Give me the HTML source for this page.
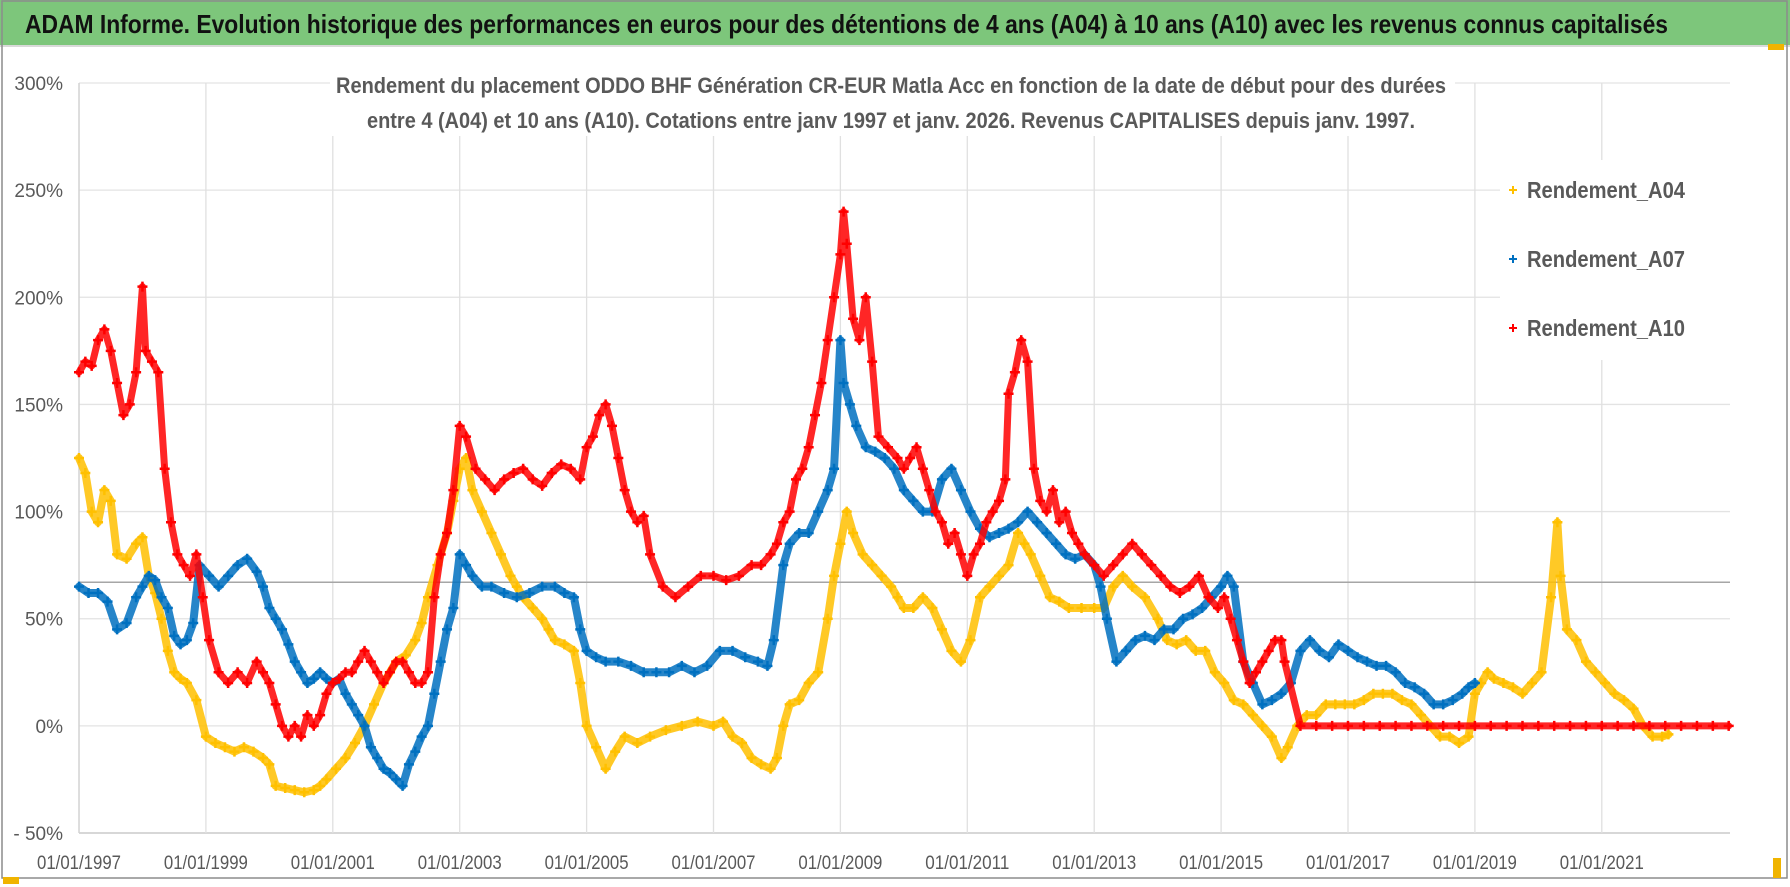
<!DOCTYPE html>
<html><head><meta charset="utf-8"><style>
html,body{margin:0;padding:0;background:#fff;}
svg{display:block;font-family:"Liberation Sans",sans-serif;}
</style></head><body>
<svg id="chart" width="1790" height="887" viewBox="0 0 1790 887">
<rect x="0" y="0" width="1790" height="887" fill="#ffffff"/>
<rect x="0" y="0" width="1790" height="45" fill="#7dc67b"/>
<line x1="0" y1="46" x2="1790" y2="46" stroke="#d9d9d9" stroke-width="2"/>
<rect x="2" y="1" width="1785" height="877" fill="none" stroke="#8c8c8c" stroke-width="1.5"/>
<text x="25" y="33" font-size="26" font-weight="bold" fill="#111" textLength="1643" lengthAdjust="spacingAndGlyphs">ADAM Informe. Evolution historique des performances en euros pour des détentions de 4 ans (A04) à 10 ans (A10) avec les revenus connus capitalisés</text>
<g id="grid"></g>
<g id="axes"></g>
<rect x="330" y="60" width="1125" height="76" fill="#fff"/>
<text x="891" y="93" font-size="22" font-weight="bold" fill="#595959" text-anchor="middle" textLength="1110" lengthAdjust="spacingAndGlyphs">Rendement du placement ODDO BHF Génération CR-EUR Matla Acc en fonction de la date de début pour des durées</text>
<text x="891" y="128" font-size="22" font-weight="bold" fill="#595959" text-anchor="middle" textLength="1048" lengthAdjust="spacingAndGlyphs">entre 4 (A04) et 10 ans (A10). Cotations entre janv 1997 et janv. 2026. Revenus CAPITALISES depuis janv. 1997.</text>
<g id="series"></g>
<rect x="1500" y="160" width="230" height="200" fill="#fff"/>
<g id="legend"></g>
<rect x="3" y="877" width="16" height="7" fill="#f0b400"/>
<rect x="1773" y="858" width="8" height="20" fill="#f0b400"/>
<rect x="1768" y="44" width="16" height="6" fill="#f0b400"/>
</svg>
<script>
const yTicks = [-50, 0, 50, 100, 150, 200, 250, 300];
const xTickYears = [1997, 1999, 2001, 2003, 2005, 2007, 2009, 2011, 2013, 2015, 2017, 2019, 2021];
const seriesNames = ["Rendement_A04", "Rendement_A07", "Rendement_A10"];
const seriesColors = ["#ffc000", "#0070c0", "#ff0000"];
const refLineValue = 67;

const a04Dates = [1997.0,1997.1,1997.2,1997.3,1997.4,1997.5,1997.6,1997.75,1997.9,1998.0,1998.1,1998.2,1998.3,1998.4,1998.5,1998.6,1998.7,1998.85,1999.0,1999.15,1999.3,1999.45,1999.6,1999.75,1999.9,2000.0,2000.1,2000.25,2000.4,2000.55,2000.7,2000.8,2000.9,2001.05,2001.2,2001.35,2001.5,2001.65,2001.8,2001.9,2002.0,2002.15,2002.3,2002.4,2002.5,2002.65,2002.8,2002.9,2003.0,2003.1,2003.2,2003.35,2003.5,2003.65,2003.8,2003.9,2004.0,2004.15,2004.3,2004.4,2004.5,2004.65,2004.8,2004.9,2005.0,2005.15,2005.3,2005.45,2005.6,2005.8,2006.0,2006.25,2006.5,2006.75,2007.0,2007.15,2007.3,2007.45,2007.6,2007.75,2007.9,2008.0,2008.1,2008.2,2008.35,2008.5,2008.65,2008.8,2008.9,2009.0,2009.1,2009.2,2009.35,2009.5,2009.65,2009.8,2009.9,2010.0,2010.15,2010.3,2010.45,2010.6,2010.75,2010.9,2011.05,2011.2,2011.35,2011.5,2011.65,2011.8,2011.9,2012.0,2012.15,2012.3,2012.45,2012.6,2012.8,2013.0,2013.15,2013.3,2013.45,2013.6,2013.8,2014.0,2014.15,2014.3,2014.45,2014.6,2014.75,2014.9,2015.05,2015.2,2015.35,2015.5,2015.65,2015.8,2015.95,2016.05,2016.2,2016.35,2016.5,2016.65,2016.8,2016.95,2017.1,2017.25,2017.4,2017.55,2017.7,2017.85,2018.0,2018.15,2018.3,2018.45,2018.6,2018.75,2018.9,2019.0,2019.1,2019.2,2019.3,2019.45,2019.6,2019.75,2019.9,2020.05,2020.2,2020.3,2020.35,2020.45,2020.6,2020.75,2020.9,2021.05,2021.2,2021.35,2021.5,2021.65,2021.8,2021.95,2022.05];
const a04Values = [125,118,100,95,110,105,80,78,85,88,70,62,50,35,25,22,20,12,-5,-8,-10,-12,-10,-12,-15,-18,-28,-29,-30,-31,-30,-28,-25,-20,-15,-8,0,10,20,25,30,33,40,48,60,75,90,105,120,125,110,100,90,80,70,65,60,55,50,45,40,38,35,20,0,-10,-20,-12,-5,-8,-5,-2,0,2,0,2,-5,-8,-15,-18,-20,-15,0,10,12,20,25,50,70,85,100,90,80,75,70,65,60,55,55,60,55,45,35,30,40,60,65,70,75,90,85,80,70,60,58,55,55,55,55,65,70,65,60,50,40,38,40,35,35,25,20,12,10,5,0,-5,-15,-10,0,5,5,10,10,10,10,12,15,15,15,12,10,5,0,-5,-5,-8,-5,15,20,25,22,20,18,15,20,25,60,95,70,45,40,30,25,20,15,12,8,0,-5,-5,-4];

const a07Dates = [1997.0,1997.15,1997.3,1997.45,1997.6,1997.75,1997.9,1998.0,1998.1,1998.2,1998.3,1998.4,1998.5,1998.6,1998.7,1998.8,1998.9,1999.05,1999.2,1999.35,1999.5,1999.65,1999.8,1999.9,2000.0,2000.1,2000.2,2000.3,2000.4,2000.5,2000.6,2000.7,2000.8,2000.9,2001.0,2001.1,2001.2,2001.3,2001.4,2001.5,2001.6,2001.7,2001.8,2001.9,2002.0,2002.1,2002.2,2002.3,2002.4,2002.5,2002.6,2002.7,2002.8,2002.9,2003.0,2003.1,2003.2,2003.35,2003.5,2003.7,2003.9,2004.1,2004.3,2004.5,2004.65,2004.8,2004.9,2005.0,2005.15,2005.3,2005.5,2005.7,2005.9,2006.1,2006.3,2006.5,2006.7,2006.9,2007.1,2007.3,2007.5,2007.7,2007.85,2007.95,2008.1,2008.2,2008.35,2008.5,2008.65,2008.8,2008.9,2009.0,2009.05,2009.15,2009.25,2009.4,2009.55,2009.7,2009.85,2010.0,2010.15,2010.3,2010.45,2010.6,2010.75,2010.9,2011.05,2011.2,2011.35,2011.5,2011.65,2011.8,2011.95,2012.1,2012.25,2012.4,2012.55,2012.7,2012.85,2013.0,2013.1,2013.2,2013.35,2013.5,2013.65,2013.8,2013.95,2014.1,2014.25,2014.4,2014.55,2014.7,2014.85,2015.0,2015.1,2015.2,2015.35,2015.5,2015.65,2015.8,2015.95,2016.1,2016.25,2016.4,2016.55,2016.7,2016.85,2017.0,2017.15,2017.3,2017.45,2017.6,2017.75,2017.9,2018.05,2018.2,2018.35,2018.5,2018.65,2018.8,2018.9,2019.0];
const a07Values = [65,62,62,58,45,48,60,65,70,68,60,55,42,38,40,48,75,70,65,70,75,78,72,65,55,50,45,38,30,25,20,22,25,22,20,22,15,10,5,0,-10,-15,-20,-22,-25,-28,-18,-12,-5,0,15,30,45,55,80,75,70,65,65,62,60,62,65,65,62,60,45,35,32,30,30,28,25,25,25,28,25,28,35,35,32,30,28,40,75,85,90,90,100,110,120,180,160,150,140,130,128,125,120,110,105,100,100,115,120,110,100,92,88,90,92,95,100,95,90,85,80,78,80,75,65,50,30,35,40,42,40,45,45,50,52,55,60,65,70,65,30,20,10,12,15,20,35,40,35,32,38,35,32,30,28,28,25,20,18,15,10,10,12,15,18,20,25,40,45];

const a10Dates = [1997.0,1997.1,1997.2,1997.3,1997.4,1997.5,1997.6,1997.7,1997.8,1997.9,1998.0,1998.05,1998.15,1998.25,1998.35,1998.45,1998.55,1998.65,1998.75,1998.85,1998.95,1999.05,1999.2,1999.35,1999.5,1999.65,1999.8,1999.9,2000.0,2000.1,2000.2,2000.3,2000.4,2000.5,2000.6,2000.7,2000.8,2000.9,2001.0,2001.1,2001.2,2001.3,2001.4,2001.5,2001.6,2001.7,2001.8,2001.9,2002.0,2002.1,2002.2,2002.3,2002.4,2002.5,2002.6,2002.7,2002.8,2002.9,2003.0,2003.1,2003.25,2003.4,2003.55,2003.7,2003.85,2004.0,2004.15,2004.3,2004.45,2004.6,2004.75,2004.9,2005.0,2005.1,2005.2,2005.3,2005.4,2005.5,2005.6,2005.7,2005.8,2005.9,2006.0,2006.2,2006.4,2006.6,2006.8,2007.0,2007.2,2007.4,2007.6,2007.75,2007.9,2008.0,2008.1,2008.2,2008.3,2008.4,2008.5,2008.6,2008.7,2008.8,2008.9,2009.0,2009.05,2009.1,2009.2,2009.3,2009.4,2009.5,2009.6,2009.75,2009.9,2010.0,2010.1,2010.2,2010.3,2010.4,2010.5,2010.6,2010.7,2010.8,2010.9,2011.0,2011.1,2011.2,2011.3,2011.4,2011.5,2011.6,2011.65,2011.75,2011.85,2011.95,2012.05,2012.15,2012.25,2012.35,2012.45,2012.55,2012.65,2012.75,2012.85,2013.0,2013.15,2013.3,2013.45,2013.6,2013.75,2013.9,2014.05,2014.2,2014.35,2014.5,2014.65,2014.8,2014.95,2015.05,2015.15,2015.25,2015.35,2015.45,2015.55,2015.65,2015.75,2015.85,2015.95,2016.0,2016.25,2016.5,2016.75,2017.0,2017.25,2017.5,2017.75,2018.0,2018.25,2018.5,2018.75,2019.0,2019.25,2019.5,2019.75,2020.0,2020.25,2020.5,2020.75,2021.0,2021.25,2021.5,2021.75,2022.0,2022.25,2022.5,2022.75,2023.0];
const a10Values = [165,170,168,180,185,175,160,145,150,165,205,175,170,165,120,95,80,75,70,80,60,40,25,20,25,20,30,25,20,10,0,-5,0,-5,5,0,5,15,20,22,25,25,30,35,30,25,20,25,30,30,25,20,20,25,60,80,90,110,140,135,120,115,110,115,118,120,115,112,118,122,120,115,130,135,145,150,140,125,110,100,95,98,80,65,60,65,70,70,68,70,75,75,80,85,95,100,115,120,130,145,160,180,200,220,240,225,190,180,200,170,135,130,125,120,125,130,120,110,100,95,85,90,80,70,80,85,95,100,105,115,155,165,180,170,120,105,100,110,95,100,90,85,80,75,70,75,80,85,80,75,70,65,62,65,70,60,55,60,50,40,30,20,25,30,35,40,40,30,0,0,0,0,0,0,0,0,0,0,0,0,0,0,0,0,0,0,0,0,0,0,0,0,0,0,0,0,0];

const plotLeft = 79, plotRight = 1730, plotTop = 83, plotBottom = 833;
const yMin = -50, yMax = 300, x0Year = 1997, pxPerYear = 63.45;
function xScale(year){ return plotLeft + (year - x0Year) * pxPerYear; }
function yScale(v){ return plotBottom - (v - yMin) / (yMax - yMin) * (plotBottom - plotTop); }
const NS = "http://www.w3.org/2000/svg";
function mk(tag, attrs, parent){ const e = document.createElementNS(NS, tag); for (const k in attrs) e.setAttribute(k, attrs[k]); parent.appendChild(e); return e; }

const grid = document.getElementById('grid');
const axes = document.getElementById('axes');
yTicks.forEach(function(t){
  const y = yScale(t);
  const gl = mk('line', {x1: plotLeft, x2: plotRight, y1: y, y2: y, stroke: t === yMin ? '#bfbfbf' : '#e3e3e3', 'stroke-width': 1.3}, grid);
  
  
  const lab = mk('text', {x: 63, y: y + 7, 'font-size': 19, fill: '#595959', 'text-anchor': 'end'}, axes);
  lab.textContent = (t < 0 ? '- ' + Math.abs(t) : t) + '%';
  
  
});
xTickYears.forEach(function(yr){
  const x = xScale(yr);
  const gl = mk('line', {x1: x, x2: x, y1: plotTop, y2: plotBottom, stroke: '#e0e0e0', 'stroke-width': 1.3}, grid);
  
  
  const lab = mk('text', {x: x, y: 869, 'font-size': 19, fill: '#595959', 'text-anchor': 'middle', textLength: 84, lengthAdjust: 'spacingAndGlyphs'}, axes);
  lab.textContent = '01/01/' + yr;
  
  
});
const lb = mk('line', {x1: plotLeft, x2: plotLeft, y1: plotTop, y2: plotBottom, stroke: '#d0d0d0', 'stroke-width': 1.3}, axes);


const ref = mk('line', {x1: plotLeft, x2: plotRight, y1: yScale(refLineValue), y2: yScale(refLineValue), stroke: '#a6a6a6', 'stroke-width': 1.5}, axes);



const seriesLayer = document.getElementById('series');
const allDates = [a04Dates, a07Dates, a10Dates];
const allValues = [a04Values, a07Values, a10Values];
function plusPath(x, y, s){ return 'M' + (x - s) + ' ' + y + 'H' + (x + s) + 'M' + x + ' ' + (y - s) + 'V' + (y + s); }
for (let s = 0; s < 3; s++){
  const g = mk('g', {}, seriesLayer);
  
  
  const d = allDates[s], v = allValues[s];
  let pts = '';
  for (let i = 0; i < d.length; i++) pts += xScale(d[i]) + ',' + yScale(v[i]) + ' ';
  const band = mk('polyline', {points: pts, fill: 'none', stroke: seriesColors[s], 'stroke-width': s === 2 ? 7 : 8, 'stroke-linejoin': 'round', 'stroke-linecap': 'round', opacity: 0.85}, g);
  
  
  let dp = '';
  for (let i = 0; i < d.length; i++) dp += plusPath(xScale(d[i]), yScale(v[i]), 5);
  const marks = mk('path', {d: dp, stroke: seriesColors[s], 'stroke-width': 2.5, fill: 'none'}, g);
  
  
}

const legend = document.getElementById('legend');
const legendY = [190, 259, 328];
for (let s = 0; s < 3; s++){
  const m = mk('path', {d: plusPath(1513, legendY[s], 4), stroke: seriesColors[s], 'stroke-width': 2, fill: 'none'}, legend);
  
  
  const t = mk('text', {x: 1527, y: legendY[s] + 8, 'font-size': 23, 'font-weight': 'bold', fill: '#595959', textLength: 158, lengthAdjust: 'spacingAndGlyphs'}, legend);
  t.textContent = seriesNames[s];
  
  
}
</script>
</body></html>
